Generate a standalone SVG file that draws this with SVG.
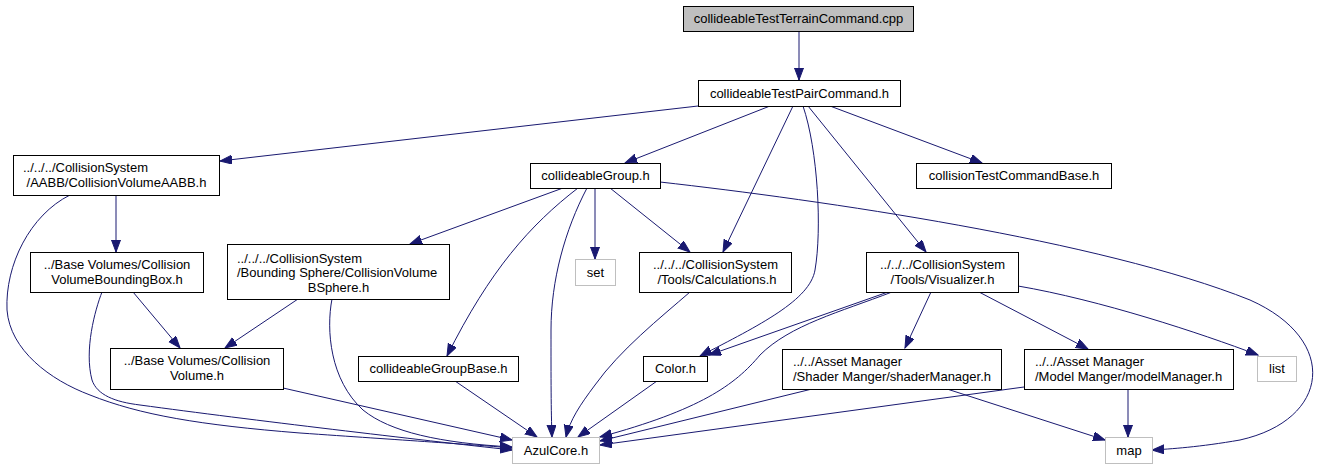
<svg xmlns="http://www.w3.org/2000/svg" width="1321" height="469" viewBox="0 0 1321 469">
<style>
.n rect{fill:#ffffff;stroke:#000000;stroke-width:1}
.n.root rect{fill:#bfbfbf}
.n.ext rect{stroke:#bfbfbf}
text{font-family:"Liberation Sans",Arial,sans-serif;font-size:13px;fill:#000000}
.c{text-anchor:middle}
.l{text-anchor:start}
#edges path{fill:none;stroke:#191970;stroke-width:1;marker-end:url(#ah)}
</style>
<defs>
<marker id="ah" markerUnits="userSpaceOnUse" markerWidth="13" markerHeight="10" refX="12" refY="4.5" orient="auto">
<path d="M0,0 L12,4.5 L0,9 z" fill="#191970" stroke="#191970" stroke-width="1"/>
</marker>
</defs>
<rect width="1321" height="469" fill="#ffffff"/>
<g id="edges">
<path d="M799,31 L799,80"/>
<path d="M698,106 L220,161"/>
<path d="M770,106 L625,163"/>
<path d="M793,106 L723,252"/>
<path d="M803,106 C818,150 822,230 815,270 C810,300 760,325 700,356"/>
<path d="M808,106 L926,252"/>
<path d="M830,106 L982,163"/>
<path d="M116,195 L116,252"/>
<path d="M70,195 C30,215 5,265 7,310 C10,350 50,380 90,395 C140,415 200,425 300,433 C400,440 480,445 512,448"/>
<path d="M102,292 C95,310 84,350 92,380 C97,395 115,402 140,405 C250,420 420,440 512,450"/>
<path d="M133,292 L180,348"/>
<path d="M298,299 L225,348"/>
<path d="M332,299 C326,330 330,380 363,410 C390,432 440,443 512,447"/>
<path d="M283,388 L512,440"/>
<path d="M563,188 L410,244"/>
<path d="M578,188 C530,225 490,270 447,356"/>
<path d="M587,188 C565,230 551,280 551,330 C551,380 551,410 552,437"/>
<path d="M595,188 L595,259"/>
<path d="M610,188 L690,252"/>
<path d="M660,182 C820,200 1100,240 1250,300 C1340,340 1330,420 1240,440 C1200,447 1170,449 1152,450"/>
<path d="M690,292 C660,318 620,350 595,385 C580,405 570,420 566,437"/>
<path d="M657,381 L578,437"/>
<path d="M455,381 L537,437"/>
<path d="M888,292 L709,355"/>
<path d="M892,292 C840,312 790,325 760,355 C735,385 700,410 600,437"/>
<path d="M931,292 L905,348"/>
<path d="M979,292 L1088,349"/>
<path d="M1018,286 C1100,300 1200,333 1258,355"/>
<path d="M812,389 L600,441"/>
<path d="M947,389 L1105,440"/>
<path d="M1024,387 L600,445"/>
<path d="M1128,389 L1128,437"/>
</g>
<g id="n_cpp" class="n root"><rect x="683.5" y="6.5" width="230" height="25"/><text class="c" x="798.5" y="23">collideableTestTerrainCommand.cpp</text></g>
<g id="n_pair" class="n"><rect x="698.5" y="80.5" width="202" height="26"/><text class="c" x="799.5" y="97.5">collideableTestPairCommand.h</text></g>
<g id="n_aabb" class="n"><rect x="13.5" y="155.5" width="206" height="40"/><text class="l" x="23" y="172">../../../CollisionSystem</text><text class="c" x="116.5" y="187">/AABB/CollisionVolumeAABB.h</text></g>
<g id="n_group" class="n"><rect x="530.5" y="163.5" width="130" height="25"/><text class="c" x="595.5" y="180">collideableGroup.h</text></g>
<g id="n_ctcb" class="n"><rect x="916.5" y="163.5" width="195" height="25"/><text class="c" x="1014" y="180">collisionTestCommandBase.h</text></g>
<g id="n_bbox" class="n"><rect x="30.5" y="252.5" width="173" height="40"/><text class="c" x="117" y="269">../Base Volumes/Collision</text><text class="c" x="117" y="284">VolumeBoundingBox.h</text></g>
<g id="n_bsphere" class="n"><rect x="227.5" y="244.5" width="222" height="55"/><text class="l" x="237" y="262.5">../../../CollisionSystem</text><text class="l" x="237" y="277">/Bounding Sphere/CollisionVolume</text><text class="c" x="338.5" y="291.5">BSphere.h</text></g>
<g id="n_set" class="n ext"><rect x="575.5" y="259.5" width="40" height="26"/><text class="c" x="595.5" y="276.5">set</text></g>
<g id="n_calc" class="n"><rect x="639.5" y="252.5" width="152" height="40"/><text class="c" x="715.5" y="269">../../../CollisionSystem</text><text class="c" x="717" y="284">/Tools/Calculations.h</text></g>
<g id="n_vis" class="n"><rect x="866.5" y="252.5" width="152" height="40"/><text class="c" x="942.5" y="269">../../../CollisionSystem</text><text class="c" x="942.5" y="284">/Tools/Visualizer.h</text></g>
<g id="n_cvol" class="n"><rect x="110.5" y="348.5" width="173" height="41"/><text class="c" x="197" y="365">../Base Volumes/Collision</text><text class="c" x="197" y="380">Volume.h</text></g>
<g id="n_gbase" class="n"><rect x="358.5" y="356.5" width="160" height="25"/><text class="c" x="438.5" y="373">collideableGroupBase.h</text></g>
<g id="n_color" class="n"><rect x="643.5" y="356.5" width="64" height="25"/><text class="c" x="675.5" y="373">Color.h</text></g>
<g id="n_shader" class="n"><rect x="782.5" y="349.5" width="219" height="40"/><text class="l" x="793" y="366">../../Asset Manager</text><text class="l" x="793" y="381">/Shader Manger/shaderManager.h</text></g>
<g id="n_model" class="n"><rect x="1024.5" y="349.5" width="209" height="40"/><text class="l" x="1035" y="366">../../Asset Manager</text><text class="l" x="1035" y="381">/Model Manger/modelManager.h</text></g>
<g id="n_list" class="n ext"><rect x="1257.5" y="356.5" width="39" height="25"/><text class="c" x="1277" y="373">list</text></g>
<g id="n_azul" class="n ext"><rect x="512.5" y="437.5" width="87" height="26"/><text class="c" x="556" y="454.5">AzulCore.h</text></g>
<g id="n_map" class="n ext"><rect x="1105.5" y="437.5" width="47" height="26"/><text class="c" x="1129" y="454.5">map</text></g>
</svg>
